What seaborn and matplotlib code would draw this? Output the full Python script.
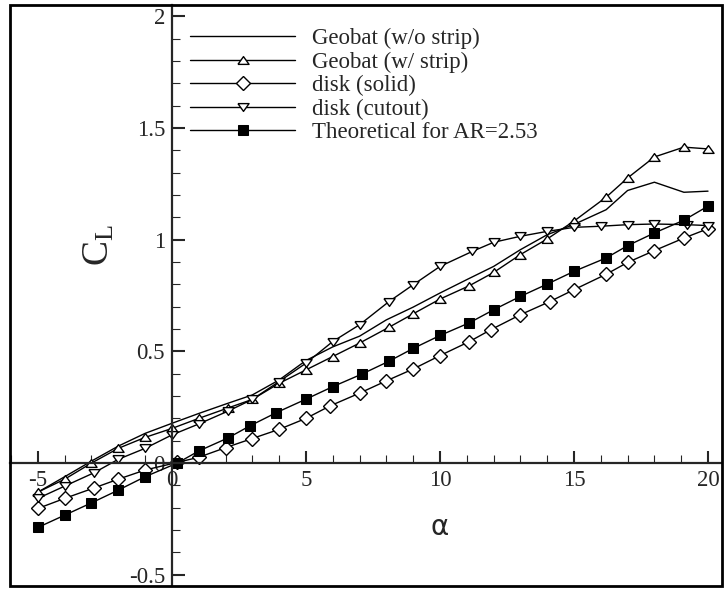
import numpy as np
import pandas as pd
import matplotlib
matplotlib.use('Agg')
import matplotlib.pyplot as plt
import seaborn as sns
from matplotlib.ticker import MultipleLocator, FormatStrFormatter
from matplotlib.patches import Rectangle

# angle of attack (deg) for each series
alpha_geo_plain = [-5, -4, -3, -2, -1, 0, 1, 2, 3, 4, 5, 6, 7, 8, 9, 10, 11, 12, 13, 14, 15, 16.2, 17, 18, 19.1, 20]
cl_geo_plain = [-0.13, -0.061, 0.009, 0.076, 0.133, 0.178, 0.222, 0.264, 0.305, 0.372, 0.459, 0.52, 0.568,
                0.641, 0.698, 0.761, 0.821, 0.88, 0.955, 1.022, 1.068, 1.134, 1.22, 1.257, 1.212, 1.217]

alpha_geo_strip = [-5, -4, -3, -2, -1, 0, 1, 2.1, 3, 4, 5, 6, 7, 8.1, 9, 10, 11.1, 12, 13, 14, 15, 16.2, 17, 18, 19.1, 20]
cl_geo_strip = [-0.13, -0.072, 0.0, 0.066, 0.115, 0.155, 0.2, 0.247, 0.285, 0.357, 0.417, 0.477, 0.537,
                0.608, 0.668, 0.734, 0.794, 0.853, 0.933, 1.003, 1.083, 1.19, 1.276, 1.37, 1.414, 1.406]

alpha_disk_solid = [-5, -4, -2.9, -2, -1, 0.2, 1, 2, 3, 4, 5, 5.9, 7, 8, 9, 10, 11.1, 11.9, 13, 14.1, 15, 16.2, 17, 18, 19.1, 20]
cl_disk_solid = [-0.203, -0.158, -0.111, -0.072, -0.031, 0.003, 0.026, 0.069, 0.11, 0.151, 0.2, 0.256, 0.313,
                 0.368, 0.421, 0.481, 0.544, 0.597, 0.664, 0.723, 0.776, 0.845, 0.898, 0.951, 1.007, 1.049]

alpha_disk_cut = [-5, -4, -2.9, -2, -1, 0, 1, 2.1, 3, 4, 5, 6, 7, 8.1, 9, 10, 11.2, 12, 13, 14, 15, 16, 17, 18, 19.2, 20]
cl_disk_cut = [-0.158, -0.103, -0.043, 0.017, 0.066, 0.126, 0.175, 0.233, 0.285, 0.365, 0.447, 0.544, 0.619,
               0.723, 0.798, 0.88, 0.947, 0.988, 1.015, 1.037, 1.055, 1.06, 1.067, 1.07, 1.067, 1.063]

alpha_theory = [-5, -4, -3, -2, -1, 0.2, 1, 2.1, 2.9, 3.9, 5, 6, 7.1, 8.1, 9, 10, 11.1, 12, 13, 14, 15, 16.2, 17, 18, 19.1, 20]
cl_theory = [-0.288, -0.233, -0.178, -0.121, -0.061, 0.0, 0.054, 0.113, 0.166, 0.226, 0.286, 0.342, 0.399,
             0.456, 0.513, 0.571, 0.628, 0.686, 0.746, 0.801, 0.858, 0.918, 0.973, 1.03, 1.087, 1.15]

sns.set_style('ticks')
plt.rcParams['font.family'] = ['Liberation Serif', 'DejaVu Serif']
plt.rcParams['mathtext.fontset'] = 'custom'
plt.rcParams['mathtext.rm'] = 'Liberation Serif'
plt.rcParams['mathtext.it'] = 'Liberation Serif'
plt.rcParams['axes.unicode_minus'] = False

# flat triangles, wider than tall like in the original plot
tri_up = [(-1, -0.7), (1, -0.7), (0, 0.7), (-1, -0.7)]
tri_down = [(-1, 0.7), (1, 0.7), (0, -0.7), (-1, 0.7)]

fig = plt.figure(figsize=(7.25, 5.9), dpi=100)
ax = fig.add_axes([0.0138, 0.0068, 0.982, 0.9847])

line_kw = dict(color='black', linewidth=1.0, estimator=None, sort=False, ax=ax)
open_kw = dict(markerfacecolor='white', markeredgecolor='black', markeredgewidth=1.0)
sns.lineplot(x=alpha_geo_plain, y=cl_geo_plain, label='Geobat (w/o strip)', **line_kw)
sns.lineplot(x=alpha_geo_strip, y=cl_geo_strip, label='Geobat (w/ strip)', marker=tri_up,
             markersize=8, **open_kw, **line_kw)
sns.lineplot(x=alpha_disk_solid, y=cl_disk_solid, label='disk (solid)', marker='D',
             markersize=7.5, **open_kw, **line_kw)
sns.lineplot(x=alpha_disk_cut, y=cl_disk_cut, label='disk (cutout)', marker=tri_down,
             markersize=8, **open_kw, **line_kw)
sns.lineplot(x=alpha_theory, y=cl_theory, label='Theoretical for AR=2.53', marker='s',
             markersize=6.5, markerfacecolor='black', markeredgecolor='black', **line_kw)

ax.set_xlim(-6.04, 20.52)
ax.set_ylim(-0.55, 2.05)

# axes through the origin, box around everything
ax.spines['left'].set_position(('data', 0))
ax.spines['bottom'].set_position(('data', 0))
ax.spines['left'].set_linewidth(1.6)
ax.spines['bottom'].set_linewidth(1.6)
ax.spines['top'].set_visible(False)
ax.spines['right'].set_visible(False)
ax.add_patch(Rectangle((0, 0), 1, 1, transform=ax.transAxes, fill=False,
                       edgecolor='black', linewidth=2.0, clip_on=False, zorder=5))

ax.xaxis.set_major_locator(MultipleLocator(5))
ax.xaxis.set_minor_locator(MultipleLocator(1))
ax.yaxis.set_major_locator(MultipleLocator(0.5))
ax.yaxis.set_minor_locator(MultipleLocator(0.1))
ax.xaxis.set_major_formatter(FormatStrFormatter('%g'))
ax.yaxis.set_major_formatter(FormatStrFormatter('%g'))
ax.tick_params(which='major', direction='in', length=9, width=1.5, labelsize=16.5, pad=5)
ax.tick_params(which='minor', direction='in', length=5.5, width=0.8)
ax.set_xlabel('')
ax.set_ylabel('')

ax.text(0.604, 0.1015, 'α', transform=ax.transAxes, fontsize=20, family='DejaVu Sans',
        ha='center', va='center')
ax.text(0.126, 0.587, r'$\mathrm{C_L}$', transform=ax.transAxes, fontsize=27,
        rotation=90, ha='center', va='center')

ax.legend(loc='upper left', bbox_to_anchor=(0.2528, 0.9600), frameon=False, fontsize=16.5,
          handlelength=4.6, handletextpad=0.74, labelspacing=0.1, borderpad=0, borderaxespad=0)

fig.savefig('out.png', dpi=100)
